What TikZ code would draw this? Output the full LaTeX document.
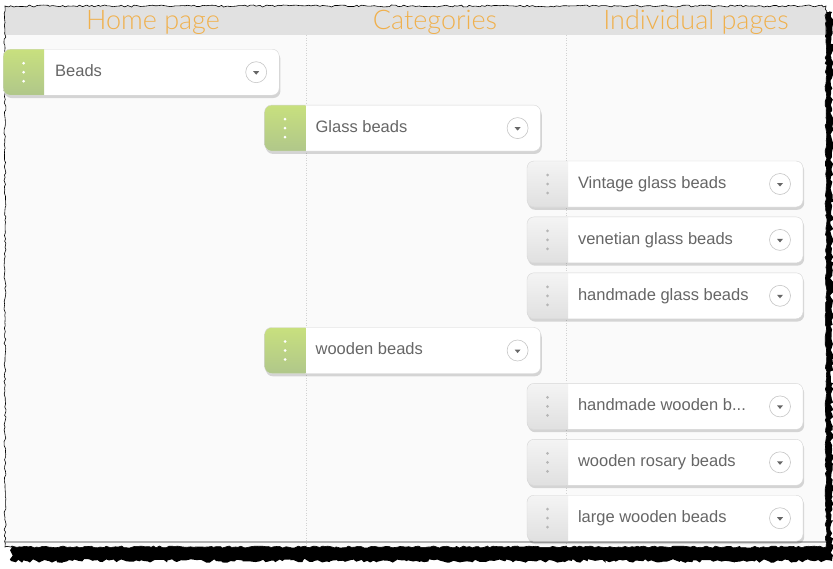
\documentclass[tikz,border=0pt]{standalone}
\usepackage{fontspec}
\setmainfont{Liberation Sans}
\newfontfamily\headfont{Lato Light}
\usepackage{xcolor}
\usetikzlibrary{positioning, shadows, decorations.pathmorphing}

\definecolor{headbg}{HTML}{E1E1E1}
\definecolor{headtext}{HTML}{F0B04C}
\definecolor{panelbg}{HTML}{FAFAFA}
\definecolor{boxedge}{HTML}{D6D6D6}
\definecolor{labeltext}{HTML}{666666}
\definecolor{greentop}{HTML}{C8E07E}
\definecolor{greenbot}{HTML}{B0C78A}
\definecolor{greendot}{HTML}{FFFFFF}
\definecolor{graytop}{HTML}{F4F4F4}
\definecolor{graybot}{HTML}{E0E0E0}
\definecolor{graydot}{HTML}{B5B5B5}

\begin{document}
\begin{tikzpicture}[x=1pt, y=-1pt,
    bead/.style={
        rectangle, rounded corners=7pt, draw=boxedge, fill=white,
        minimum width=276pt, minimum height=46pt, inner sep=0pt,
        anchor=north west,
        drop shadow={shadow xshift=1.2pt, shadow yshift=-2.8pt,
                     fill=black, opacity=0.15},
        path picture={
            \shade[sharp corners, top color=#1top, bottom color=#1bot]
                (path picture bounding box.north west)
                rectangle ([xshift=41pt]path picture bounding box.south west);
            \foreach \dy in {-9,0,9}
                \fill[#1dot] ([xshift=20.5pt, yshift=\dy pt]path picture bounding box.west)
                    circle (1.5pt);
            \draw[gray!45, fill=white, line width=0.6pt]
                ([xshift=-23pt]path picture bounding box.east) circle (10.5pt);
            \fill[gray!80!black, sharp corners]
                ([xshift=-26pt, yshift=1pt]path picture bounding box.east)
                -- ++(6,0) -- ++(-3,3.5) -- cycle;
        }
    },
    label/.style={
        font=\fontsize{16.5}{20}\selectfont, text=labeltext,
        inner sep=0pt, text height=12pt, text depth=3.5pt
    },
    colhead/.style={
        font=\headfont\fontsize{27}{30}\selectfont, text=headtext,
        inner sep=0pt, anchor=base
    },
    divider/.style={gray!35, line width=0.6pt, dash pattern=on 1pt off 1.5pt},
    torn/.style={decorate, decoration={random steps, segment length=3pt, amplitude=#1}}
]
\useasboundingbox (0,0) rectangle (833,568);

% torn screenshot shadow
\pgfmathsetseed{7}
\fill[black, torn=1.8pt] (11,12) -- (832,12) -- (832,561) -- (11,561) -- cycle;

% panel with header band and columns
\path[draw=black, line width=0.6pt, fill=panelbg, torn=1pt,
      path picture={
          \fill[headbg] (0,0) rectangle (833,35);
          \draw[divider] (306,35) -- (306,547);
          \draw[divider] (566,35) -- (566,547);
          \draw[gray!60, line width=2pt] (0,542) -- (833,542);
      }]
    (5,6) -- (826,6) -- (826,547) -- (5,547) -- cycle;

% column headers
\node[colhead] (home) at (153,29.5) {Home page};
\node[colhead] (cats) at (435,29.5) {Categories};
\node[colhead] (pages) at (696,29.5) {Individual pages};

% home page
\node[bead=green] (beads) at (3,49) {};

% categories
\node[bead=green, below right=9.5pt and -15pt of beads] (glass) {};
\node[bead=green, below=176pt of glass] (wooden) {};

% individual pages
\node[bead=gray, below right=9.5pt and -14pt of glass] (vintage) {};
\node[bead=gray, below=9.5pt of vintage] (venetian) {};
\node[bead=gray, below=9.5pt of venetian] (hmglass) {};
\node[bead=gray, below right=9.5pt and -14pt of wooden] (hmwood) {};
\node[bead=gray, below=9.5pt of hmwood] (rosary) {};
\node[bead=gray, below=9.5pt of rosary] (large) {};

% labels
\node[label, right=52pt of beads.west] (beads-t) {Beads};
\node[label, right=51pt of glass.west] (glass-t) {Glass beads};
\node[label, right=51pt of wooden.west] (wooden-t) {wooden beads};
\node[label, right=51pt of vintage.west] (vintage-t) {Vintage glass beads};
\node[label, right=51pt of venetian.west] (venetian-t) {venetian glass beads};
\node[label, right=51pt of hmglass.west] (hmglass-t) {handmade glass beads};
\node[label, right=51pt of hmwood.west] (hmwood-t) {handmade wooden b...};
\node[label, right=51pt of rosary.west] (rosary-t) {wooden rosary beads};
\node[label, right=51pt of large.west] (large-t) {large wooden beads};

\end{tikzpicture}
\end{document}
